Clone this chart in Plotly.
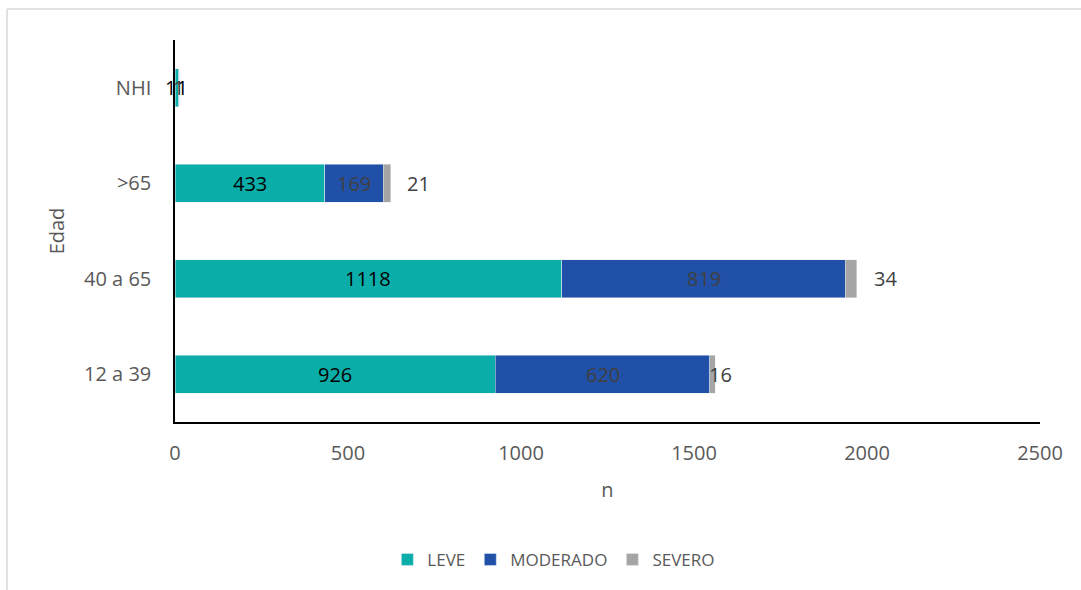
import plotly.graph_objects as go

categories = ["12 a 39", "40 a 65", ">65", "NHI"]
leve = [926, 1118, 433, 11]
moderado = [620, 819, 169, 1]
severo = [16, 34, 21, 0]
severo_labels = ["16", "34", "21", ""]
x_ticks = [0, 500, 1000, 1500, 2000, 2500]

FONT = "Open Sans"
GRAY = "#595959"
LBL = 20

fig = go.Figure()
fig.add_trace(go.Bar(y=categories, x=leve, name="LEVE", orientation="h",
                     marker=dict(color="#0BADA8")))
fig.add_trace(go.Bar(y=categories, x=moderado, name="MODERADO", orientation="h",
                     marker=dict(color="#2050A8")))
fig.add_trace(go.Bar(y=categories, x=severo, name="SEVERO", orientation="h",
                     marker=dict(color="#A5A5A5")))

shifts = [-8, 15, 14, 0]
for i, c in enumerate(categories):
    fig.add_annotation(x=leve[i] / 2, y=c, text=str(leve[i]), showarrow=False,
                       font=dict(color="#000000", size=LBL, family=FONT))
    fig.add_annotation(x=leve[i] + moderado[i] / 2, y=c, text=str(moderado[i]), showarrow=False,
                       font=dict(color="#404040", size=LBL, family=FONT))
    if severo_labels[i]:
        total = leve[i] + moderado[i] + severo[i]
        fig.add_annotation(x=total, y=c, text=severo_labels[i], showarrow=False,
                           xanchor="left", xshift=shifts[i],
                           font=dict(color="#404040", size=LBL, family=FONT))

# outer chart border (top and left edges)
fig.add_shape(type="line", xref="paper", yref="paper",
              x0=(7 - 175) / 865, x1=1.1, y0=(422 - 9) / 382, y1=(422 - 9) / 382,
              line=dict(color="#D9D9D9", width=1.5))
fig.add_shape(type="line", xref="paper", yref="paper",
              x0=(7 - 175) / 865, x1=(7 - 175) / 865, y0=(422 - 9) / 382, y1=-0.6,
              line=dict(color="#D9D9D9", width=1.5))

fig.update_layout(
    barmode="stack",
    bargap=0.6,
    width=1081, height=590,
    margin=dict(l=175, r=41, t=40, b=168),
    plot_bgcolor="white", paper_bgcolor="white",
    font=dict(family=FONT, size=18, color=GRAY),
    showlegend=True,
    legend=dict(orientation="h", x=0.438, xanchor="center", y=-0.361, yanchor="middle",
                font=dict(size=17, color=GRAY, family=FONT), traceorder="normal",
                itemwidth=30),
)
fig.update_xaxes(
    range=[0, 2500], tickvals=x_ticks, ticktext=[str(t) for t in x_ticks],
    showgrid=False, zeroline=False, showline=True, linecolor="#000000", linewidth=1.5,
    ticks="", ticklabelstandoff=12, tickfont=dict(size=LBL, color=GRAY, family=FONT),
    title=dict(text="n", font=dict(size=LBL, color=GRAY, family=FONT), standoff=18),
)
fig.update_yaxes(
    categoryorder="array", categoryarray=categories,
    showgrid=False, zeroline=False, showline=True, linecolor="#000000", linewidth=1.5,
    ticks="", ticklabelstandoff=18, tickfont=dict(size=LBL, color=GRAY, family=FONT),
    title=dict(text="Edad", font=dict(size=LBL, color=GRAY, family=FONT), standoff=14),
)

fig.write_html("out.html")
